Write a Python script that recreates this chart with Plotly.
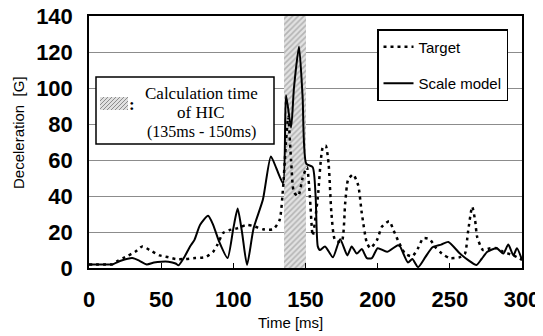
import plotly.graph_objects as go

# ---- data ----
scale_t = [0, 5, 10, 16, 22, 30, 35, 40, 45, 50, 55, 60, 62, 66, 70, 73, 77, 82.5, 86, 90, 96, 100, 103, 106,
           109.5, 114, 120.5, 126, 130, 134.5, 136.5, 140, 142, 145.5, 148, 150.5, 155, 157, 158.5, 160, 163.5,
           169, 174, 179, 182, 185.5, 189, 192.5, 196, 200, 206.5, 214, 215.5, 221, 224, 228, 233, 238, 244,
           249, 257, 262.5, 268.5, 272, 276, 282.5, 287, 290.5, 294, 296.5, 300]
scale_g = [2, 2, 2, 2, 4, 5.5, 4, 2, 3, 3.5, 3.5, 2.5, 1.5, 6, 12, 15.5, 24, 29, 24, 15, 5.5, 22, 33, 20,
           1.7, 22, 38, 62, 55, 47, 96, 78, 100, 123, 95, 58, 56, 40, 12, 10, 12,
           6, 16, 7, 12, 8, 10.5, 5.5, 5.5, 11, 9, 12.7, 12, 3, 5, 0.5, 6, 11.5, 13,
           14.5, 8, 4.5, 1.7, 5, 9, 11, 8, 13, 7, 11, 4.5]

target_t = [0, 5, 10, 16, 20, 25, 32, 37, 42, 49, 55, 60, 67, 73.5, 80.5, 86, 89, 93, 97, 102.5, 109.5, 115,
            120.5, 127.5, 132, 134.5, 136, 138, 140, 142, 145, 148, 151, 153, 155, 158.5, 162, 164, 166, 168,
            170.5, 175, 177.5, 179.5, 183, 186.5, 189, 192.5, 195, 199.5, 203, 208, 211, 214, 219, 224, 228,
            231.5, 236, 240, 244.5, 250, 257, 260.5, 262.5, 265.5, 267.5, 269, 273, 278, 282.5, 287, 294, 300]
target_g = [2, 2, 2, 2, 4, 6, 9, 12, 10, 7, 6, 5, 5, 5.5, 6, 9, 13, 19.5, 21, 22, 24, 23,
            21.5, 21.5, 26.5, 45, 64, 84, 60, 42, 40, 50, 56, 40, 18, 39, 67, 68, 58, 30,
            15.5, 14.5, 36, 49, 52, 46, 30.5, 14, 11, 15.5, 23, 26, 21, 15.5, 8, 6.5, 11,
            16.5, 16, 11.5, 8, 5.5, 6, 8, 19.5, 34, 26.5, 17, 10, 11, 11, 9, 7, 4.5]

hic_start, hic_end = 135, 150
x_ticks = [0, 50, 100, 150, 200, 250, 300]
y_ticks = [0, 20, 40, 60, 80, 100, 120, 140]

# ---- figure ----
fig = go.Figure()

fig.add_trace(go.Bar(
    x=[(hic_start + hic_end) / 2], y=[140], width=[hic_end - hic_start],
    marker=dict(color="#e2e2e2", line=dict(width=0),
                pattern=dict(shape="/", fgcolor="#858585", bgcolor="#e2e2e2", size=4, solidity=0.4)),
    showlegend=False, hoverinfo="skip"))

fig.add_trace(go.Scatter(x=target_t, y=target_g, mode="lines", name="Target",
                         line=dict(color="black", width=2.5, dash="3px,4px", shape="spline", smoothing=0.6),
                         legendgroup="a"))
fig.add_trace(go.Scatter(x=scale_t, y=scale_g, mode="lines", name="Scale model",
                         line=dict(color="black", width=2, shape="spline", smoothing=0.6),
                         legendgroup="b"))

# page is shown with an 8px body margin: shift everything by O
O = 8
W, H = 543 - O, 336 - O
L, R, T, B = 89 - O, 21, 16 - O, 68
pw, ph = W - L - R, H - T - B


def px_x(p):
    return (p - O - L) / pw


def px_y(p):
    return (H - B - (p - O)) / ph


shapes = [
    dict(type="rect", xref="paper", yref="paper", x0=px_x(96), x1=px_x(274), y0=px_y(144), y1=px_y(77),
         fillcolor="white", line=dict(color="black", width=1.5), layer="above"),
    dict(type="rect", xref="paper", yref="paper", x0=px_x(100), x1=px_x(128), y0=px_y(110), y1=px_y(97),
         fillcolor="#e0e0e0", line=dict(width=0), layer="above"),
]
for k in range(-13, 28, 4):
    x0, y0 = 100 + k, 110
    x1, y1 = x0 + 13, 97
    if x0 < 100:
        y0 = 110 - (100 - x0)
        x0 = 100
    if x1 > 128:
        y1 = 97 + (x1 - 128)
        x1 = 128
    if x1 > x0:
        shapes.append(dict(type="line", xref="paper", yref="paper", x0=px_x(x0), y0=px_y(y0),
                           x1=px_x(x1), y1=px_y(y1), line=dict(color="#8c8c8c", width=1), layer="above"))

serif = "Liberation Serif"


def ann(x, y, text, size, family, angle=0):
    return dict(xref="paper", yref="paper", x=px_x(x), y=px_y(y), text=text, showarrow=False,
                xanchor="center", yanchor="middle", textangle=angle,
                font=dict(family=family, size=size, color="black"))


annotations = [
    ann(132, 104, "<b>:</b>", 17, serif),
    ann(201, 93, "Calculation time", 17, serif),
    ann(201, 113, "of HIC", 17, serif),
    ann(201, 132, "(135ms - 150ms)", 16, serif),
    ann(290, 322, "Time [ms]", 15, "Liberation Sans"),
    ann(18, 133, "Deceleration  [G]", 15, "Liberation Sans", -90),
]

fig.update_layout(
    width=W, height=H,
    margin=dict(l=L, r=R, t=T, b=B, autoexpand=False),
    paper_bgcolor="white", plot_bgcolor="white",
    showlegend=True,
    legend=dict(x=px_x(377), y=px_y(29), xanchor="left", yanchor="top",
                bgcolor="white", bordercolor="black", borderwidth=1.5,
                font=dict(family="Liberation Sans", size=15, color="black"),
                tracegroupgap=14, itemwidth=30),
    shapes=shapes, annotations=annotations,
    bargap=0,
)
fig.update_xaxes(range=[0, 300], tickvals=x_ticks, ticktext=[str(v) for v in x_ticks], automargin=False,
                 showgrid=False, zeroline=False, showline=True, linecolor="black", linewidth=1.5,
                 mirror=True, ticks="inside", ticklen=5, tickcolor="black",
                 ticklabelstandoff=11, ticklabeloverflow="allow",
                 tickfont=dict(family="Liberation Sans", size=22, color="black", weight="bold"))
fig.update_yaxes(range=[0, 140], tickvals=y_ticks, ticktext=[str(v) for v in y_ticks], automargin=False,
                 showgrid=True, gridcolor="#8c8c8c", gridwidth=1, zeroline=False,
                 showline=True, linecolor="black", linewidth=1.5, mirror=True, ticks="",
                 ticklabelstandoff=10, ticklabeloverflow="allow",
                 tickfont=dict(family="Liberation Sans", size=22, color="black", weight="bold"))

fig.write_html("out.html")
